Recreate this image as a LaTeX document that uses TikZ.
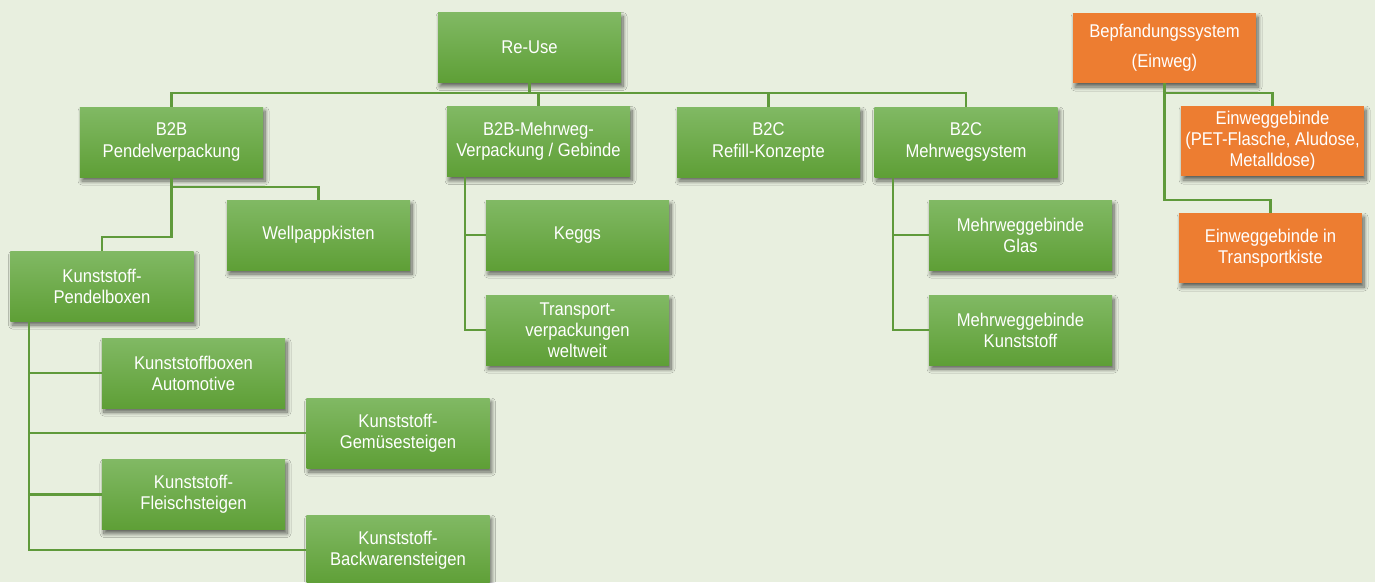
\documentclass[tikz,border=0pt]{standalone}
\usepackage{fontspec}
\setmainfont{Liberation Sans}[FakeStretch=0.9]
\usetikzlibrary{shadows.blur}
\definecolor{bgcol}{HTML}{E8EFDF}
\definecolor{boxtop}{HTML}{81B964}
\definecolor{boxbot}{HTML}{5E9F36}
\definecolor{orng}{HTML}{ED7D31}
\definecolor{linecol}{HTML}{5F9A3B}

\begin{document}
\begin{tikzpicture}[x=0.2mm, y=-0.2mm, font=\fontsize{10.5}{12}\selectfont,
box/.style={rectangle, draw=none, text=white, minimum width=36.6mm, minimum height=14mm,
      align=center, inner sep=2pt,
      blur shadow={shadow xshift=0.4mm, shadow yshift=-0.8mm, shadow blur radius=0.8mm,
                   shadow blur steps=8, shadow opacity=60}},
gbox/.style={box, top color=boxtop, bottom color=boxbot},
obox/.style={box, fill=orng},
link/.style={draw=linecol, line width=0.45mm}]
 \useasboundingbox (0,0) rectangle (1375,582);
 \clip (0,0) rectangle (1375,582);
 \fill[bgcol] (0,0) rectangle (1375,582);

 % top level
 \node[gbox] (reuse) at (529.5,47.5) {Re-Use};
 \node[gbox] (pendel) at (171.5,142) {B2B\\Pendelverpackung};
 \node[gbox] (mehrweg) at (538.5,141.5) {B2B-Mehrweg-\\Verpackung / Gebinde};
 \node[gbox] (refill) at (768.5,142) {B2C\\Refill-Konzepte};
 \node[gbox] (b2csys) at (966,142) {B2C\\Mehrwegsystem};

 % B2B Pendelverpackung
 \node[gbox] (wellp) at (318.5,235) {Wellpappkisten};
 \node[gbox] (kpb) at (102,286) {Kunststoff-\\Pendelboxen};
 \node[gbox] (auto) at (193.5,373) {Kunststoffboxen\\Automotive};
 \node[gbox] (gemuese) at (398,433) {Kunststoff-\\Gemüsesteigen};
 \node[gbox] (fleisch) at (193.5,494.5) {Kunststoff-\\Fleischsteigen};
 \node[gbox] (backw) at (398,550) {Kunststoff-\\Backwarensteigen};

 % B2B-Mehrweg and B2C
 \node[gbox] (keggs) at (577.5,235) {Keggs};
 \node[gbox] (transp) at (577.5,330) {Transport-\\verpackungen\\weltweit};
 \node[gbox] (glas) at (1020.5,235) {Mehrweggebinde\\Glas};
 \node[gbox] (kunst) at (1020.5,330) {Mehrweggebinde\\Kunststoff};

 % Einweg
 \node[obox] (pfand) at (1164.5,48) {Bepfandungssystem\\[5pt](Einweg)};
 \node[obox] (einw1) at (1272.5,141) {Einweggebinde\\(PET-Flasche, Aludose,\\Metalldose)};
 \node[obox] (einw2) at (1270.5,248) {Einweggebinde in\\Transportkiste};

 \draw[link] (reuse.south) -- ++(0,10) coordinate (hub);
 \foreach \c in {pendel,mehrweg,refill,b2csys}
   \draw[link] (hub) -| (\c.north);
 \draw[link] (pendel.south) -- ++(0,10) -| (wellp.north);
 \draw[link] (pendel.south) -- ++(0,60) -| (kpb.north);
 \foreach \c in {auto,gemuese,fleisch,backw}
   \draw[link] ([xshift=3.8mm]kpb.south west) |- (\c.west);
 \foreach \c in {keggs,transp}
   \draw[link] ([xshift=3.6mm]mehrweg.south west) |- (\c.west);
 \foreach \c in {glas,kunst}
   \draw[link] ([xshift=3.8mm]b2csys.south west) |- (\c.west);
 \draw[link] (pfand.south) -- ++(0,10) -| (einw1.north);
 \draw[link] (pfand.south) -- ++(0,117) -| (einw2.north);
\end{tikzpicture}
\end{document}
